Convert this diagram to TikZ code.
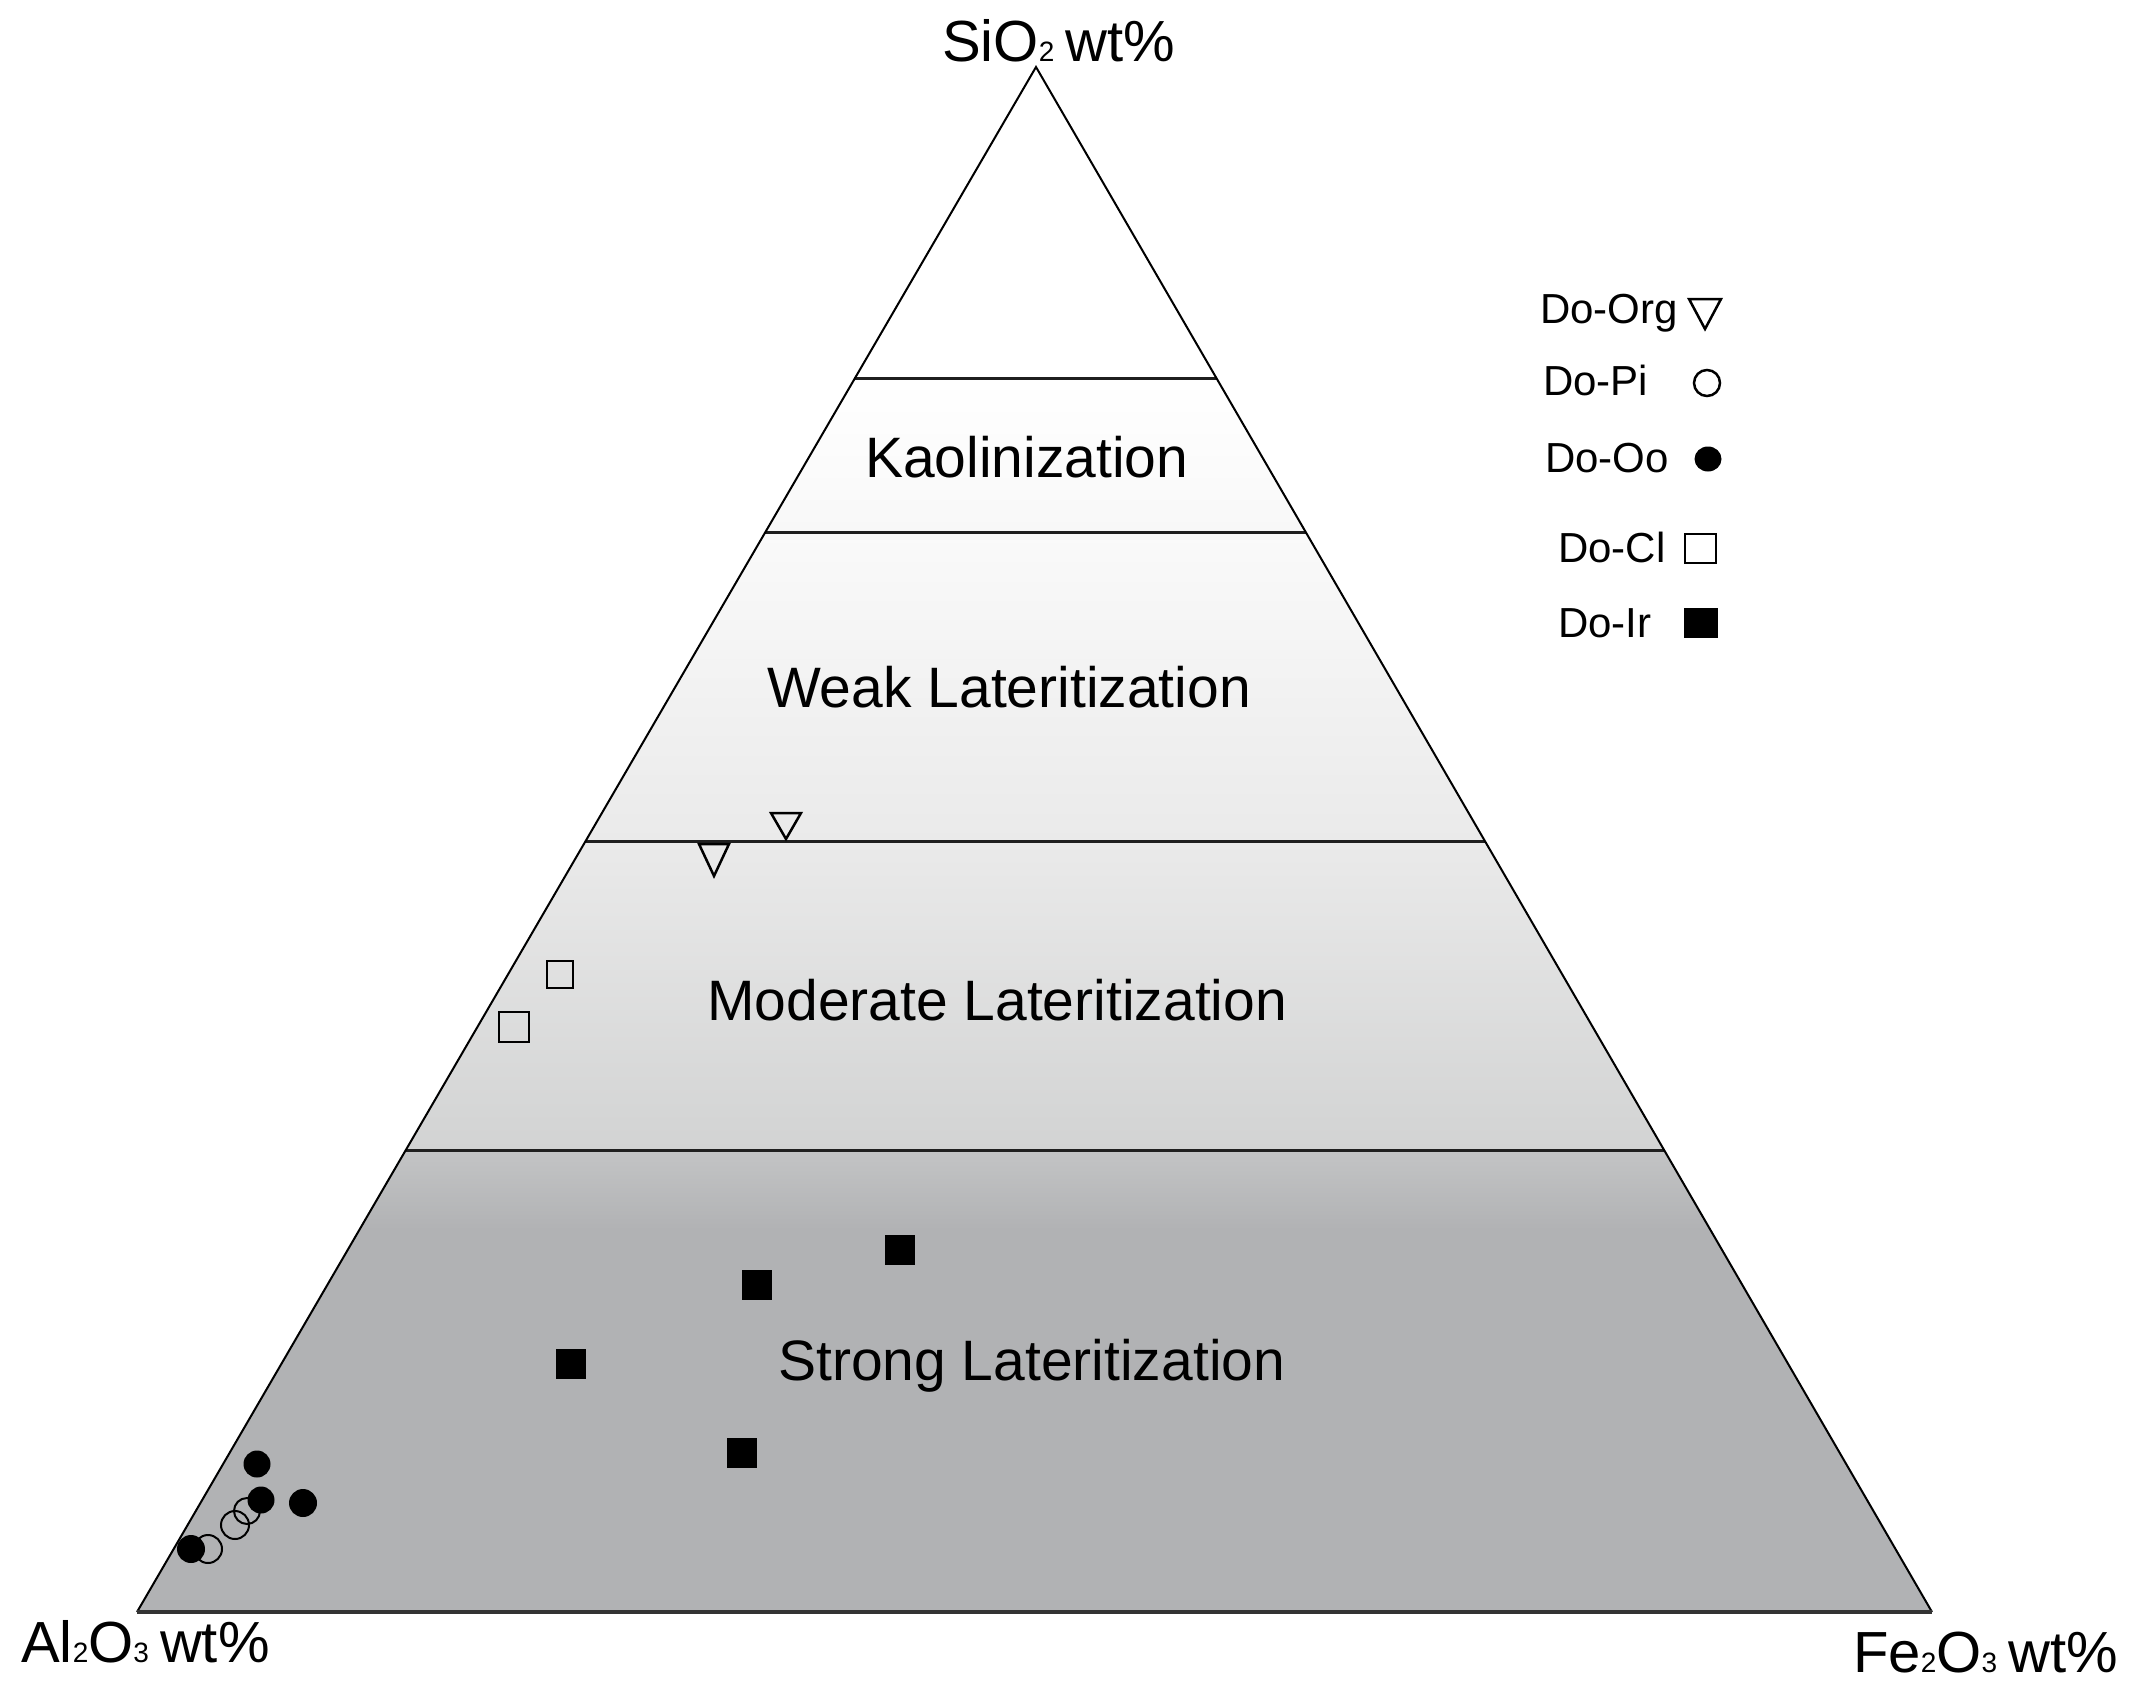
\documentclass[tikz,border=0pt]{standalone}
\usepackage{fontspec}
\setmainfont{Liberation Sans}
\usetikzlibrary{calc}
\definecolor{kaotop}{HTML}{FFFFFF}
\definecolor{kaobot}{HTML}{F8F8F8}
\definecolor{weaktop}{HTML}{FAFAFA}
\definecolor{weakbot}{HTML}{EAEAEA}
\definecolor{modtop}{HTML}{EAEAEA}
\definecolor{modbot}{HTML}{D2D3D3}
\definecolor{strtop}{HTML}{C3C4C5}
\definecolor{strong}{HTML}{B1B2B4}
\newcommand\axbig{\fontsize{58}{60}\selectfont}
\newcommand\axsub{\fontsize{28}{30}\selectfont}
\newcommand\axgap{\hspace{11pt}}
\begin{document}
\begin{tikzpicture}[x=1pt,y=-1pt,
  edge/.style={line width=2pt,black},
  hline/.style={line width=3pt,black!88},
  lab/.style={font=\fontsize{57}{60}\selectfont, anchor=base west, inner sep=0pt},
  leg/.style={font=\fontsize{42}{46}\selectfont, anchor=base west, inner sep=0pt},
  ax/.style={font=\axbig, anchor=base west, inner sep=0pt},
  mk/.style={line width=2.5pt, black},
  ]
\useasboundingbox (0,0) rectangle (2136,1694);
\fill[white] (0,0) rectangle (2136,1694);
\coordinate (A) at (1036,67);
\coordinate (L) at (137,1612);
\coordinate (R) at (1932,1612);
% band fills
\begin{scope}
\clip (A)--(L)--(R)--cycle;
\shade[top color=kaotop,bottom color=kaobot] (0,379) rectangle (2136,533);
\shade[top color=weaktop,bottom color=weakbot] (0,533) rectangle (2136,842);
\shade[top color=modtop,bottom color=modbot] (0,842) rectangle (2136,1150);
\shade[top color=strtop,bottom color=strong] (0,1150) rectangle (2136,1230);
\fill[strong] (0,1229) rectangle (2136,1612);
\end{scope}
% band boundaries
\draw[hline] ($(A)!0.2019!(L)$) -- ($(A)!0.2019!(R)$);
\draw[hline] ($(A)!0.3016!(L)$) -- ($(A)!0.3016!(R)$);
\draw[hline] ($(A)!0.5016!(L)$) -- ($(A)!0.5016!(R)$);
\draw[hline] ($(A)!0.7010!(L)$) -- ($(A)!0.7010!(R)$);
% triangle
\draw[edge] (L) -- (A) -- (R);
\draw[line width=4pt,black!80] (L) -- (R);
% zone labels
\node[lab] (kao) at (865,477) {Kaolinization};
\node[lab] (weak) at (767,707) {Weak Lateritization};
\node[lab] (mod) at (707,1020) {Moderate Lateritization};
\node[lab] (str) at (778,1380) {Strong Lateritization};
% axis labels
\node[ax] (si) at (942,62) {SiO{\axsub 2}\axgap wt\%};
\node[ax] (al) at (21,1662) {Al{\axsub 2}O{\axsub 3}\axgap wt\%};
\node[ax] (fe) at (1853,1672) {Fe{\axsub 2}O{\axsub 3}\axgap wt\%};
% legend
\node[leg] (lorg) at (1540,323) {Do-Org};
\node[leg] (lpi) at (1543,395) {Do-Pi};
\node[leg] (loo) at (1545,472) {Do-Oo};
\node[leg] (lcl) at (1558,562) {Do-Cl};
\node[leg] (lir) at (1558,637) {Do-Ir};
\draw[mk] (1689,299) -- (1721,299) -- (1705,329) -- cycle;
\draw[mk] (1707,383) circle[radius=13];
\fill[black] (1708,459) ellipse[x radius=13.5, y radius=12.5];
\draw[mk] (1685,534) rectangle (1716,563);
\fill[black] (1684,608) rectangle (1718,638);
% data: Do-Org
\draw[mk] (771,813) -- (801,813) -- (786,839) -- cycle;
\draw[mk] (699,844) -- (729,844) -- (714,876) -- cycle;
% data: Do-Cl
\draw[mk] (547,961) rectangle (573,988);
\draw[mk] (499,1012) rectangle (529,1042);
% data: Do-Ir
\fill[black] (885,1235) rectangle (915,1265);
\fill[black] (742,1270) rectangle (772,1300);
\fill[black] (556,1349) rectangle (586,1379);
\fill[black] (727,1438) rectangle (757,1468);
% data: Do-Pi (open circles)
\draw[line width=2pt] (208,1549) circle[radius=14];
\draw[line width=2pt] (235,1525) circle[radius=14];
\draw[line width=2pt] (247,1511) circle[radius=13];
% data: Do-Oo (filled circles)
\fill[black] (257,1464) circle[radius=13.5];
\fill[black] (261,1500) circle[radius=13.5];
\fill[black] (303,1503) circle[radius=14];
\fill[black] (191,1549) circle[radius=14];
\end{tikzpicture}
\end{document}
